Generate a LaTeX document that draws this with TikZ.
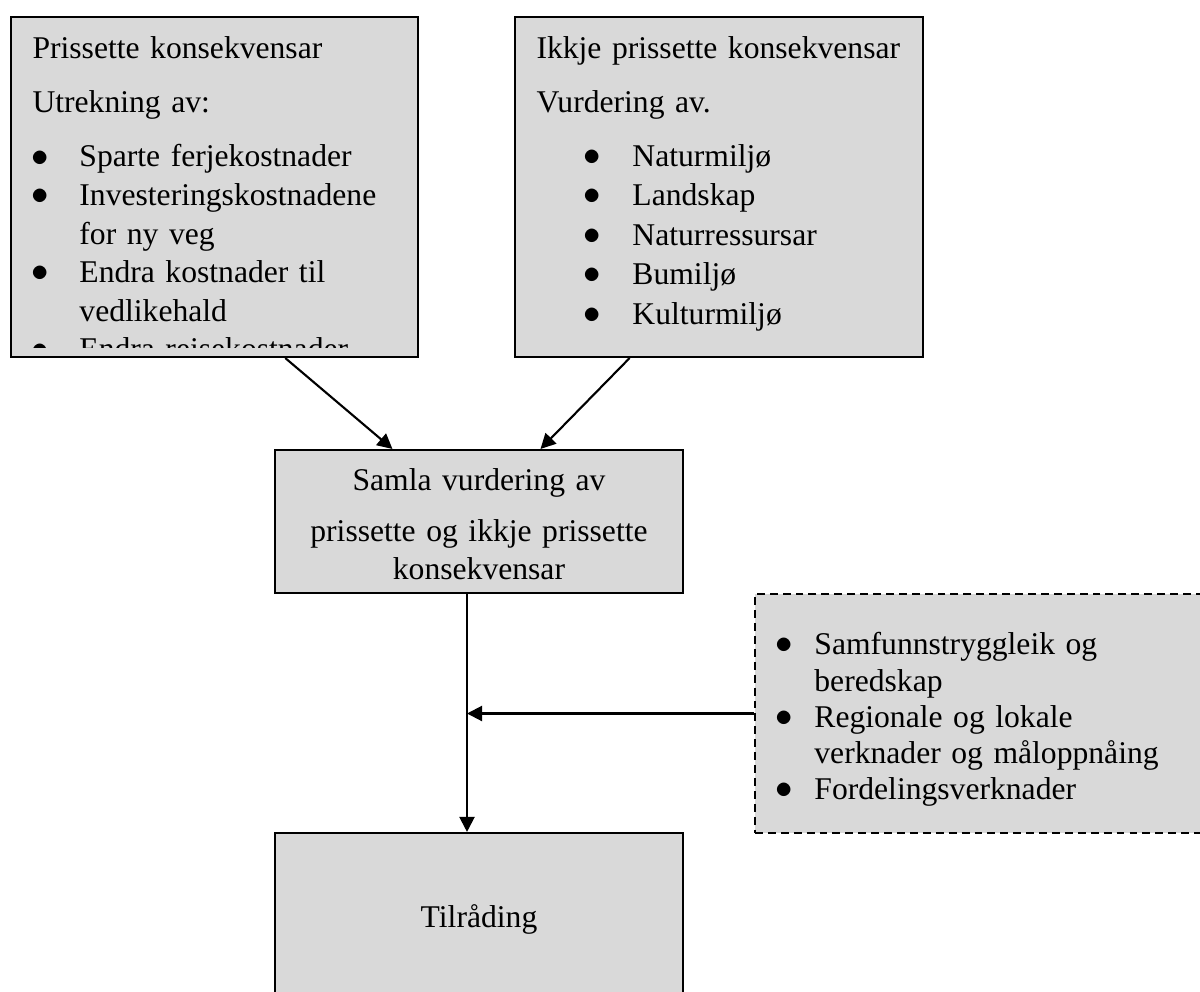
\documentclass[tikz,border=0pt]{standalone}
\usepackage{xcolor}
\usepackage{graphicx}
\usepackage{fontspec}
\setmainfont{Liberation Serif}
\usepackage{tikz}
\usetikzlibrary{arrows.meta, positioning, fit, calc}

\definecolor{boxgray}{HTML}{D9D9D9}

\newcommand{\bigbullet}{\raisebox{0.3pt}{\scalebox{1.1}{$\bullet$}}}

% bullet list: #1 = indent of the bullet, #2 = indent of the text
\newenvironment{bulletlist}[2]{%
  \begin{list}{\bigbullet}{%
    \setlength{\leftmargin}{#2}\setlength{\labelsep}{0pt}%
    \setlength{\labelwidth}{#2}\setlength{\itemsep}{0pt}%
    \setlength{\parsep}{0pt}\setlength{\topsep}{0pt}%
    \setlength{\partopsep}{0pt}%
    \def\makelabel##1{\hspace*{#1}##1\hfil}}}%
  {\end{list}}

\begin{document}
\begin{tikzpicture}[
    x=0.013333cm, y=-0.013333cm,
    box/.style={rectangle, draw=black, line width=0.8pt, fill=boxgray, inner sep=0pt},
    dashbox/.style={box, dash pattern=on 3pt off 1.9pt},
    boxtext/.style={inner sep=0pt, align=left, font=\fontsize{12pt}{#1}\selectfont},
    arrow/.style={-{Triangle[length=5.7pt, width=5.7pt]}, line width=0.8pt}
]
\useasboundingbox (0,0) rectangle (1200,992);
\clip (0,0) rectangle (1200,992);

% boxes
\node[box, fit={(11,17) (418,357)}] (pris) {};
\node[box, fit={(515,17) (923,357)}] (ikkje) {};
\node[box, fit={(275,450) (683,593)}] (samla) {};
\node[dashbox, fit={(755,594) (1215,833)}] (tillegg) {};
\node[box, fit={(275,833) (683,1010)}] (tilr) {};

% texts
\begin{scope}
\clip (11,17) rectangle (418,347);
\node[boxtext=14.65pt, text width=4.9cm, anchor=base west] (pristext) at (32,58) {%
Prissette konsekvensar\par\vspace{6pt}
Utrekning av:\par\vspace{6pt}
\begin{bulletlist}{-0.4pt}{17.8pt}
\item Sparte ferjekostnader
\item Investeringskostnadene\\ for ny veg
\item Endra kostnader til\\ vedlikehald
\item Endra reisekostnader
\end{bulletlist}};
\end{scope}

\node[boxtext=15pt, text width=5.0cm, anchor=base west] (ikkjetext) at (536,58) {%
Ikkje prissette konsekvensar\par\vspace{5.5pt}
Vurdering av.\par\vspace{5.5pt}
\begin{bulletlist}{17.8pt}{36.4pt}
\item Naturmiljø
\item Landskap
\item Naturressursar
\item Bumiljø
\item Kulturmiljø
\end{bulletlist}};

\node[boxtext=14.4pt, align=center, text width=5.3cm, anchor=base] (samlatext) at (479,490)
  {Samla vurdering av\\[5.3pt] prissette og ikkje prissette\\ konsekvensar};

\node[boxtext=13.75pt, text width=5.6cm, anchor=north west] (tilleggtext) at (777,618) {%
\begin{bulletlist}{-0.8pt}{14pt}
\item Samfunnstryggleik og\\ beredskap
\item Regionale og lokale\\ verknader og måloppnåing
\item Fordelingsverknader
\end{bulletlist}};

\node[boxtext=14.4pt, anchor=base] (tilrtext) at (479,927) {Tilråding};

% connectors
\coordinate (stem) at ($(samla.south)+(-12,0)$);
\draw[arrow] ($(pris.south west)!0.673!(pris.south east)$) -- ($(samla.north west)!0.289!(samla.north east)$);
\draw[arrow] ($(ikkje.south west)!0.282!(ikkje.south east)$) -- ($(samla.north west)!0.65!(samla.north east)$);
\draw[arrow] (stem) -- (stem |- tilr.north);
\draw[arrow] (tillegg.west) -- (tillegg.west -| stem);

\end{tikzpicture}
\end{document}
